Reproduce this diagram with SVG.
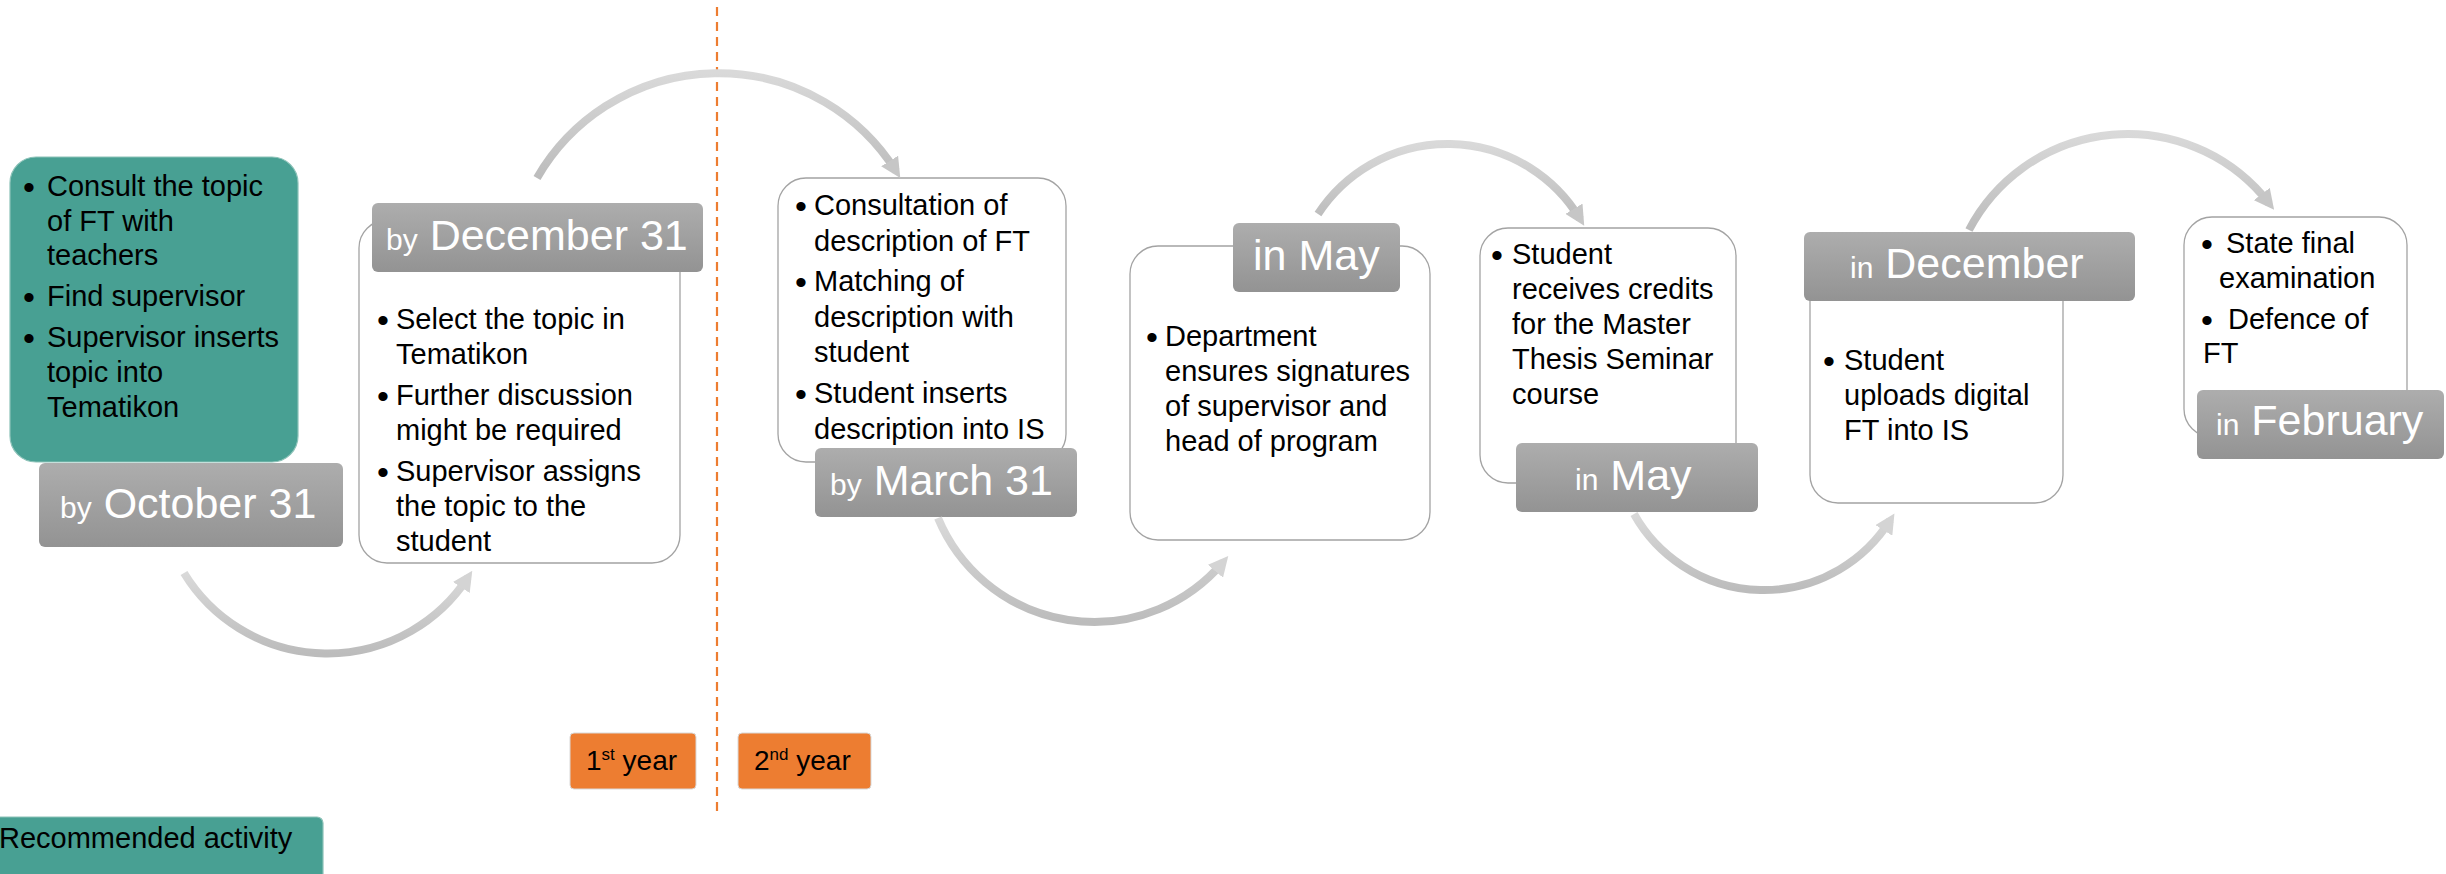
<svg xmlns="http://www.w3.org/2000/svg" width="2446" height="874" viewBox="0 0 2446 874">
<style>
.box{fill:#ffffff;stroke:#a3a3a3;stroke-width:1.3}
.teal{fill:#48a093;stroke:#8cc2b8;stroke-width:1.2}
.hdr{fill:url(#gh)}
.org{fill:#ed7d31;stroke:#d9d9d9;stroke-width:1}
.t{font-family:"Liberation Sans",Arial,sans-serif;font-size:29px;fill:#000}
.b{font-family:"Liberation Sans",Arial,sans-serif;font-size:34px;fill:#000}
.h{font-family:"Liberation Sans",Arial,sans-serif;font-size:43px;fill:#fff}
.hs{font-size:30px}
.arc{fill:none;stroke:url(#ga);stroke-width:8}
.top{marker-end:url(#ahd)}
.bot{marker-end:url(#ahl)}
.sep{stroke:#ed7d31;stroke-width:2.2;stroke-dasharray:9 6;fill:none}
</style>
<defs>
<linearGradient id="gh" x1="0" y1="0" x2="0" y2="1">
<stop offset="0" stop-color="#adadad"/>
<stop offset="1" stop-color="#939393"/>
</linearGradient>
<linearGradient id="ga" x1="0" y1="0" x2="0" y2="1">
<stop offset="0" stop-color="#d9d9d9"/>
<stop offset="1" stop-color="#bcbcbc"/>
</linearGradient>
<marker id="ahd" viewBox="0 0 20 20" refX="12" refY="10" markerWidth="20" markerHeight="20" markerUnits="userSpaceOnUse" orient="auto">
<path d="M0,0 L20,10 L0,20 z" fill="#c6c6c6"/>
</marker>
<marker id="ahl" viewBox="0 0 20 20" refX="12" refY="10" markerWidth="20" markerHeight="20" markerUnits="userSpaceOnUse" orient="auto">
<path d="M0,0 L20,10 L0,20 z" fill="#d4d4d4"/>
</marker>
</defs>

<rect width="2446" height="874" fill="#ffffff"/>

<line id="year-separator" class="sep" x1="717" y1="7" x2="717" y2="814"/>

<g id="recommended-topic">
<rect class="teal" x="10" y="157" width="288" height="305" rx="26"/>
<text class="b" x="23" y="199">•</text><text class="t" x="47" y="196">Consult the topic</text>
<text class="t" x="47" y="231">of FT with</text>
<text class="t" x="47" y="265">teachers</text>
<text class="b" x="23" y="309">•</text><text class="t" x="47" y="306">Find supervisor</text>
<text class="b" x="23" y="350">•</text><text class="t" x="47" y="347">Supervisor inserts</text>
<text class="t" x="47" y="382">topic into</text>
<text class="t" x="47" y="417">Tematikon</text>
</g>

<g id="by-october-31">
<rect class="hdr" x="39" y="463" width="304" height="84" rx="6"/>
<text class="h" x="60" y="518"><tspan class="hs">by</tspan> October 31</text>
</g>

<g id="by-december-31">
<rect class="box" x="359" y="220" width="321" height="343" rx="28"/>
<rect class="hdr" x="372" y="203" width="331" height="69" rx="6"/>
<text class="h" x="386" y="250"><tspan class="hs">by</tspan> December 31</text>
<text class="b" x="377" y="332">•</text><text class="t" x="396" y="329">Select the topic in</text>
<text class="t" x="396" y="364">Tematikon</text>
<text class="b" x="377" y="408">•</text><text class="t" x="396" y="405">Further discussion</text>
<text class="t" x="396" y="440">might be required</text>
<text class="b" x="377" y="484">•</text><text class="t" x="396" y="481">Supervisor assigns</text>
<text class="t" x="396" y="516">the topic to the</text>
<text class="t" x="396" y="551">student</text>
</g>

<g id="by-march-31">
<rect class="box" x="778" y="178" width="288" height="284" rx="28"/>
<rect class="hdr" x="815" y="448" width="262" height="69" rx="6"/>
<text class="h" x="830" y="495"><tspan class="hs">by</tspan> March 31</text>
<text class="b" x="795" y="218">•</text><text class="t" x="814" y="215">Consultation of</text>
<text class="t" x="814" y="251">description of FT</text>
<text class="b" x="795" y="294">•</text><text class="t" x="814" y="291">Matching of</text>
<text class="t" x="814" y="327">description with</text>
<text class="t" x="814" y="362">student</text>
<text class="b" x="795" y="406">•</text><text class="t" x="814" y="403">Student inserts</text>
<text class="t" x="814" y="439">description into IS</text>
</g>

<g id="in-may-signatures">
<rect class="box" x="1130" y="246" width="300" height="294" rx="28"/>
<rect class="hdr" x="1233" y="223" width="167" height="69" rx="6"/>
<text class="h" x="1253" y="270">in May</text>
<text class="b" x="1146" y="349">•</text><text class="t" x="1165" y="346">Department</text>
<text class="t" x="1165" y="381">ensures signatures</text>
<text class="t" x="1165" y="416">of supervisor and</text>
<text class="t" x="1165" y="451">head of program</text>
</g>

<g id="in-may-credits">
<rect class="box" x="1480" y="228" width="256" height="255" rx="28"/>
<rect class="hdr" x="1516" y="443" width="242" height="69" rx="6"/>
<text class="h" x="1575" y="490"><tspan class="hs">in</tspan> May</text>
<text class="b" x="1491" y="267">•</text><text class="t" x="1512" y="264">Student</text>
<text class="t" x="1512" y="299">receives credits</text>
<text class="t" x="1512" y="334">for the Master</text>
<text class="t" x="1512" y="369">Thesis Seminar</text>
<text class="t" x="1512" y="404">course</text>
</g>

<g id="in-december">
<rect class="box" x="1810" y="250" width="253" height="253" rx="28"/>
<rect class="hdr" x="1804" y="232" width="331" height="69" rx="6"/>
<text class="h" x="1850" y="278"><tspan class="hs">in</tspan> December</text>
<text class="b" x="1823" y="373">•</text><text class="t" x="1844" y="370">Student</text>
<text class="t" x="1844" y="405">uploads digital</text>
<text class="t" x="1844" y="440">FT into IS</text>
</g>

<g id="in-february">
<rect class="box" x="2184" y="217" width="223" height="220" rx="28"/>
<rect class="hdr" x="2197" y="390" width="247" height="69" rx="6"/>
<text class="h" x="2216" y="435"><tspan class="hs">in</tspan> February</text>
<text class="b" x="2201" y="256">•</text><text class="t" x="2226" y="253">State final</text>
<text class="t" x="2219" y="288">examination</text>
<text class="b" x="2201" y="332">•</text><text class="t" x="2228" y="329">Defence of</text>
<text class="t" x="2203" y="363">FT</text>
</g>

<g id="connectors">
<path class="arc bot" d="M184,573 A168,168 0 0,0 467.9,577.5"/>
<path class="arc top" d="M537,178 A209.6,209.6 0 0,1 896,171.2"/>
<path class="arc bot" d="M938,518 A169,169 0 0,0 1223.1,562.1"/>
<path class="arc top" d="M1318,214 A154.7,154.7 0 0,1 1580.1,219"/>
<path class="arc bot" d="M1634,514 A149,149 0 0,0 1890.2,520.2"/>
<path class="arc top" d="M1969,230 A179,179 0 0,1 2269.2,203.5"/>
</g>

<g id="first-year">
<rect class="org" x="570" y="733" width="126" height="56" rx="4"/>
<text class="t" x="586" y="770" style="font-size:28px">1<tspan dy="-10" style="font-size:17px">st</tspan><tspan dy="10"> year</tspan></text>
</g>

<g id="second-year">
<rect class="org" x="738" y="733" width="133" height="56" rx="4"/>
<text class="t" x="754" y="770" style="font-size:28px">2<tspan dy="-10" style="font-size:17px">nd</tspan><tspan dy="10"> year</tspan></text>
</g>

<g id="legend-recommended">
<rect class="teal" x="-20" y="817" width="343" height="80" rx="6"/>
<text class="t" x="-1" y="848">Recommended activity</text>
</g>
</svg>
